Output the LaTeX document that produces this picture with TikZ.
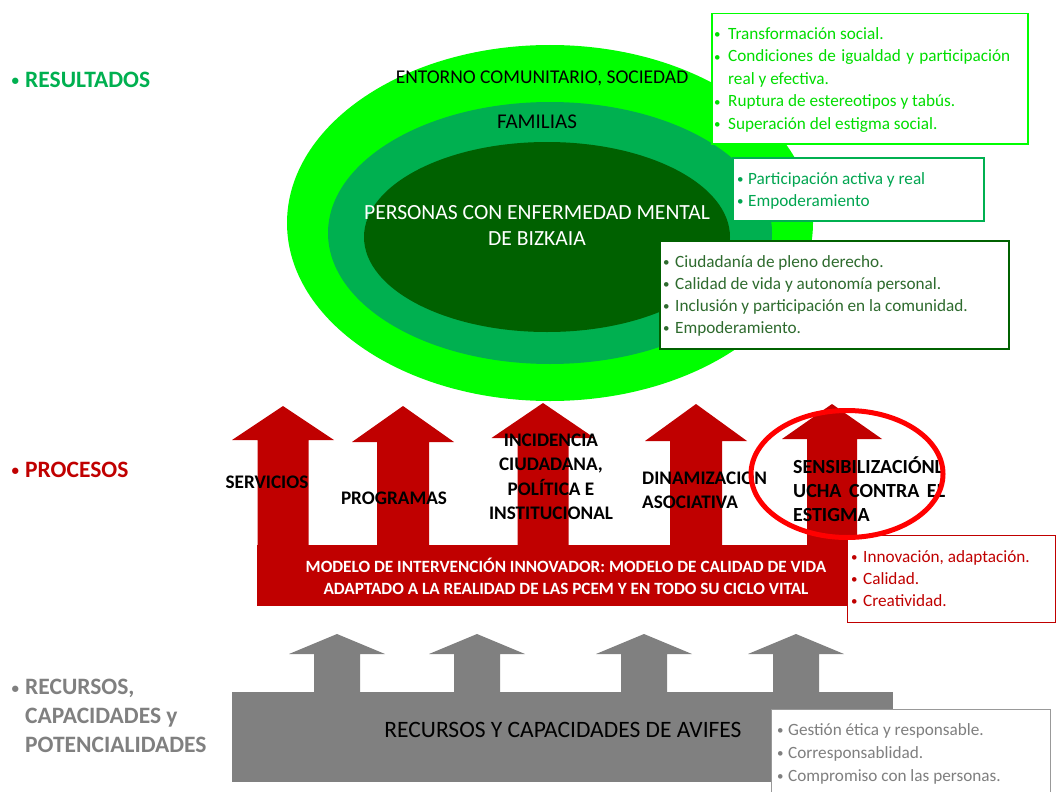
\documentclass[tikz,border=0pt]{standalone}
\usepackage{fontspec}
\setmainfont{Carlito}
\usetikzlibrary{shapes.geometric}
\definecolor{brightgreen}{HTML}{00FF00}
\definecolor{midgreen}{HTML}{00B050}
\definecolor{darkgreen}{HTML}{006100}
\definecolor{boxonetext}{HTML}{00DD00}
\definecolor{boxtwotext}{HTML}{00A550}
\definecolor{boxthreetext}{HTML}{2E6B2E}
\definecolor{procred}{HTML}{C00000}
\definecolor{resgray}{HTML}{808080}
\definecolor{graytext}{HTML}{7F7F7F}
\definecolor{circlered}{HTML}{FF0000}
\newcommand{\fs}[2]{\fontsize{#1pt}{#2pt}\selectfont}
\newcommand{\bul}[1]{\makebox[#1pt][l]{\raisebox{0.5pt}{\fs{13}{13}\textbullet}}}
\newcommand{\sidebul}{\llap{\raisebox{1.5pt}{\fs{15}{15}\textbullet}\hspace{6pt}}}
% arrow: style, centre x, top y, head base y, bottom y, head half width, shaft half width
\newcommand{\uparr}[7]{\fill[#1] (#2,#3) -- (#2+#6,#4) -- (#2+#7,#4) -- (#2+#7,#5) -- (#2-#7,#5) -- (#2-#7,#4) -- (#2-#6,#4) -- cycle;}
\begin{document}
\begin{tikzpicture}[x=1pt,y=-1pt,
  blob/.style={ellipse, inner sep=0, draw=none},
  listbox/.style={draw, fill=white, line width=1.5pt, anchor=north west, inner sep=0},
  listtext/.style={anchor=north west, inner sep=0, align=left, font=\fs{17.2}{22.5}},
  redshape/.style={fill=procred},
  grayshape/.style={fill=resgray},
  proclabel/.style={font=\bfseries\fs{19.2}{24.5}, text=black, inner sep=0},
  sidelabel/.style={font=\bfseries\fs{23.5}{29}, inner sep=0, anchor=north west, align=left},
]
\useasboundingbox (0,0) rectangle (1057,792);
\fill[white] (0,0) rectangle (1057,792);

% ---------- left labels
\node[sidelabel, text=midgreen] (lres) at (25,71) {\rule{0pt}{16pt}\sidebul RESULTADOS};
\node[sidelabel, text=procred] (lproc) at (25,461) {\rule{0pt}{16pt}\sidebul PROCESOS};
\node[sidelabel, text=resgray] (lrec) at (25,678.5) {\rule{0pt}{16pt}\sidebul RECURSOS,\\CAPACIDADES y\\POTENCIALIDADES};

% ---------- ellipses
\node[blob, fill=brightgreen, minimum width=526pt, minimum height=356pt] (entorno) at (550,223) {};
\node[blob, fill=midgreen, minimum width=444pt, minimum height=262pt] (familias) at (550,233) {};
\node[blob, fill=darkgreen, minimum width=366pt, minimum height=190pt] (personas) at (547,237) {};
\node[font=\fs{19.5}{22}, inner sep=0] (tentorno) at (542,78) {ENTORNO COMUNITARIO, SOCIEDAD};
\node[font=\fs{21}{22}, inner sep=0] (tfamilias) at (537,122) {FAMILIAS};
\node[font=\fs{21.6}{26}, text=white, inner sep=0, align=center] (tpersonas) at (537,225) {PERSONAS CON ENFERMEDAD MENTAL\\DE BIZKAIA};

% ---------- result boxes
\node[listbox, draw=brightgreen, minimum width=316pt, minimum height=130pt] (boxsocial) at (711,13) {};
\node[listtext, text=boxonetext] (tsocial) at (714,25) {\rule{0pt}{14pt}\bul{14}Transformación social.\\
\bul{14}\makebox[282pt][s]{Condiciones de igualdad y participación}\\
\hspace*{14pt}real y efectiva.\\
\bul{14}Ruptura de estereotipos y tabús.\\
\bul{14}Superación del estigma social.};

\node[listbox, draw=midgreen, minimum width=251pt, minimum height=63pt] (boxfam) at (732,157) {};
\node[listtext, text=boxtwotext, font=\fs{17.2}{22}] (tfam) at (737,170) {\rule{0pt}{14pt}\bul{11}Participación activa y real\\
\bul{11}Empoderamiento};

\node[listbox, draw=darkgreen, minimum width=349pt, minimum height=108pt] (boxpers) at (659,240) {};
\node[listtext, text=boxthreetext, font=\fs{17.2}{22}] (tpers) at (663,253) {\rule{0pt}{14pt}\bul{12}Ciudadanía de pleno derecho.\\
\bul{12}Calidad de vida y autonomía personal.\\
\bul{12}Inclusión y participación en la comunidad.\\
\bul{12}Empoderamiento.};

% ---------- process arrows
\uparr{redshape}{283}{406}{440}{547}{51}{25.5}
\uparr{redshape}{403}{406}{442}{547}{51}{26}
\uparr{redshape}{543}{403}{438}{547}{51.5}{25.5}
\uparr{redshape}{696}{404}{441}{547}{51}{26}
\uparr{redshape}{832}{404}{439}{547}{50}{25}
\node[fill=procred, anchor=north west, inner sep=0, minimum width=590pt, minimum height=61pt] (modelo) at (257,545) {};
\node[font=\bfseries\fs{17.2}{22}, text=white, align=center, inner sep=0] (tmodelo) at (566,576) {MODELO DE INTERVENCIÓN INNOVADOR: MODELO DE CALIDAD DE VIDA\\ADAPTADO A LA REALIDAD DE LAS PCEM Y EN TODO SU CICLO VITAL};

\node[proclabel] (tserv) at (267,482) {SERVICIOS};
\node[proclabel] (tprog) at (394,498) {PROGRAMAS};
\node[proclabel, align=center] (tincid) at (551,477) {INCIDENCIA\\CIUDADANA,\\POLÍTICA E\\INSTITUCIONAL};
\node[proclabel, align=left, anchor=west] (tdinam) at (642,490.5) {DINAMIZACION\\ASOCIATIVA};
\node[proclabel, font=\bfseries\fs{20}{24}, align=left, anchor=north west] (tsens) at (793,456) {\rule{0pt}{15pt}SENSIBILIZACIÓNL\\\makebox[152pt][s]{UCHA CONTRA EL}\\ESTIGMA};

\node[listbox, draw=procred, line width=1.2pt, minimum width=208pt, minimum height=87pt] (boxproc) at (847,535) {};
\node[listtext, text=procred, font=\fs{17.2}{22}] (tproc) at (851,548) {\rule{0pt}{14pt}\bul{12}Innovación, adaptación.\\
\bul{12}Calidad.\\
\bul{12}Creatividad.};

\node[ellipse, draw=circlered, line width=5pt, minimum width=192pt, minimum height=127pt, inner sep=0] (highlight) at (847,474) {};

% ---------- resources
\uparr{grayshape}{337}{634}{654}{694}{48}{23}
\uparr{grayshape}{477}{634}{654}{694}{48}{23}
\uparr{grayshape}{644}{634}{654}{694}{48}{23}
\uparr{grayshape}{796}{634}{654}{694}{48}{23}
\node[fill=resgray, anchor=north west, inner sep=0, minimum width=661pt, minimum height=90pt] (recursos) at (232,692) {};
\node[font=\fs{23.5}{26}, inner sep=0] (trecursos) at (563,730) {RECURSOS Y CAPACIDADES DE AVIFES};

\node[listbox, draw=resgray!80, line width=1pt, minimum width=279pt, minimum height=95pt] (boxrec) at (771,709) {};
\node[listtext, text=graytext, font=\fs{17.2}{23}] (trec) at (777,721) {\rule{0pt}{14pt}\bul{11}Gestión ética y responsable.\\
\bul{11}Corresponsablidad.\\
\bul{11}Compromiso con las personas.};
\end{tikzpicture}
\end{document}
